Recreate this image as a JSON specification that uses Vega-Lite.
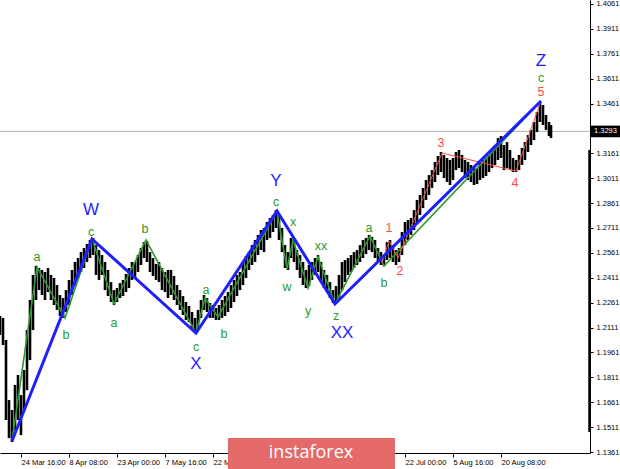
{
"$schema": "https://vega.github.io/schema/vega-lite/v6.json",
"width": 590, "height": 453,
"autosize": {"type": "none"},
"padding": {"left": 0, "top": 0, "right": 30, "bottom": 16},
"background": "white",
"config": {"view": {"stroke": null}, "axis": {"grid": false, "labelFont": "Liberation Sans", "title": null, "labelOverlap": false}, "axisY": {"labelOverlap": false}, "text": {"font": "Liberation Sans"}},
"datasets": {
"px": [
{"t":0,"h":1.2181,"l":1.2066},{"t":3,"h":1.2169,"l":1.2006},{"t":6,"h":1.2036,"l":1.1554},{"t":9,"h":1.1674,"l":1.1445},{"t":12,"h":1.1614,"l":1.1421},{"t":15,"h":1.1765,"l":1.1493},{"t":18,"h":1.1825,"l":1.1554},{"t":21,"h":1.1704,"l":1.1463},{"t":24,"h":1.1855,"l":1.1614},{"t":27,"h":1.2096,"l":1.1734},{"t":30,"h":1.2277,"l":1.1915},{"t":33,"h":1.2428,"l":1.2096},{"t":36,"h":1.2482,"l":1.2277},{"t":39,"h":1.2470,"l":1.2337},{"t":42,"h":1.2458,"l":1.2307},{"t":45,"h":1.2446,"l":1.2277},{"t":48,"h":1.2470,"l":1.2325},{"t":51,"h":1.2428,"l":1.2277},{"t":54,"h":1.2410,"l":1.2247},{"t":57,"h":1.2367,"l":1.2217},{"t":60,"h":1.2307,"l":1.2181},{"t":63,"h":1.2289,"l":1.2169},{"t":66,"h":1.2337,"l":1.2205},{"t":69,"h":1.2398,"l":1.2247},{"t":72,"h":1.2458,"l":1.2307},{"t":75,"h":1.2506,"l":1.2367},{"t":78,"h":1.2530,"l":1.2410},{"t":81,"h":1.2566,"l":1.2446},{"t":84,"h":1.2590,"l":1.2470},{"t":87,"h":1.2614,"l":1.2506},{"t":90,"h":1.2639,"l":1.2530},{"t":93,"h":1.2651,"l":1.2548},{"t":96,"h":1.2608,"l":1.2428},{"t":99,"h":1.2578,"l":1.2398},{"t":102,"h":1.2548,"l":1.2428},{"t":105,"h":1.2506,"l":1.2337},{"t":108,"h":1.2458,"l":1.2301},{"t":111,"h":1.2385,"l":1.2265},{"t":114,"h":1.2337,"l":1.2247},{"t":117,"h":1.2349,"l":1.2265},{"t":120,"h":1.2379,"l":1.2289},{"t":123,"h":1.2398,"l":1.2301},{"t":126,"h":1.2434,"l":1.2325},{"t":129,"h":1.2470,"l":1.2349},{"t":132,"h":1.2506,"l":1.2398},{"t":135,"h":1.2506,"l":1.2410},{"t":138,"h":1.2548,"l":1.2446},{"t":141,"h":1.2590,"l":1.2488},{"t":144,"h":1.2626,"l":1.2530},{"t":147,"h":1.2633,"l":1.2506},{"t":150,"h":1.2566,"l":1.2446},{"t":153,"h":1.2530,"l":1.2422},{"t":156,"h":1.2494,"l":1.2398},{"t":159,"h":1.2506,"l":1.2385},{"t":162,"h":1.2470,"l":1.2337},{"t":165,"h":1.2446,"l":1.2325},{"t":168,"h":1.2458,"l":1.2289},{"t":171,"h":1.2458,"l":1.2307},{"t":174,"h":1.2422,"l":1.2277},{"t":177,"h":1.2367,"l":1.2247},{"t":180,"h":1.2337,"l":1.2217},{"t":183,"h":1.2301,"l":1.2187},{"t":186,"h":1.2265,"l":1.2157},{"t":189,"h":1.2241,"l":1.2144},{"t":192,"h":1.2205,"l":1.2108},{"t":195,"h":1.2169,"l":1.2078},{"t":198,"h":1.2217,"l":1.2096},{"t":201,"h":1.2277,"l":1.2169},{"t":204,"h":1.2307,"l":1.2217},{"t":207,"h":1.2289,"l":1.2205},{"t":210,"h":1.2259,"l":1.2169},{"t":213,"h":1.2247,"l":1.2169},{"t":216,"h":1.2229,"l":1.2157},{"t":219,"h":1.2247,"l":1.2157},{"t":222,"h":1.2277,"l":1.2169},{"t":225,"h":1.2301,"l":1.2181},{"t":228,"h":1.2325,"l":1.2205},{"t":231,"h":1.2367,"l":1.2229},{"t":234,"h":1.2398,"l":1.2265},{"t":237,"h":1.2428,"l":1.2301},{"t":240,"h":1.2446,"l":1.2337},{"t":243,"h":1.2506,"l":1.2367},{"t":246,"h":1.2542,"l":1.2410},{"t":249,"h":1.2566,"l":1.2458},{"t":252,"h":1.2608,"l":1.2488},{"t":255,"h":1.2639,"l":1.2506},{"t":258,"h":1.2669,"l":1.2548},{"t":261,"h":1.2699,"l":1.2578},{"t":264,"h":1.2711,"l":1.2566},{"t":267,"h":1.2747,"l":1.2639},{"t":270,"h":1.2771,"l":1.2651},{"t":273,"h":1.2789,"l":1.2687},{"t":276,"h":1.2819,"l":1.2711},{"t":279,"h":1.2789,"l":1.2639},{"t":282,"h":1.2711,"l":1.2566},{"t":285,"h":1.2608,"l":1.2470},{"t":288,"h":1.2566,"l":1.2458},{"t":291,"h":1.2651,"l":1.2530},{"t":294,"h":1.2639,"l":1.2506},{"t":297,"h":1.2578,"l":1.2458},{"t":300,"h":1.2548,"l":1.2410},{"t":303,"h":1.2506,"l":1.2367},{"t":306,"h":1.2458,"l":1.2349},{"t":309,"h":1.2488,"l":1.2361},{"t":312,"h":1.2506,"l":1.2398},{"t":315,"h":1.2530,"l":1.2428},{"t":318,"h":1.2548,"l":1.2446},{"t":321,"h":1.2506,"l":1.2385},{"t":324,"h":1.2458,"l":1.2349},{"t":327,"h":1.2428,"l":1.2325},{"t":330,"h":1.2385,"l":1.2289},{"t":333,"h":1.2337,"l":1.2259},{"t":336,"h":1.2361,"l":1.2265},{"t":339,"h":1.2428,"l":1.2289},{"t":342,"h":1.2506,"l":1.2337},{"t":345,"h":1.2518,"l":1.2385},{"t":348,"h":1.2530,"l":1.2428},{"t":351,"h":1.2548,"l":1.2446},{"t":354,"h":1.2566,"l":1.2470},{"t":357,"h":1.2578,"l":1.2488},{"t":360,"h":1.2608,"l":1.2506},{"t":363,"h":1.2639,"l":1.2530},{"t":366,"h":1.2651,"l":1.2554},{"t":369,"h":1.2669,"l":1.2578},{"t":372,"h":1.2657,"l":1.2566},{"t":375,"h":1.2639,"l":1.2530},{"t":378,"h":1.2590,"l":1.2506},{"t":381,"h":1.2566,"l":1.2488},{"t":384,"h":1.2548,"l":1.2482},{"t":387,"h":1.2626,"l":1.2518},{"t":390,"h":1.2639,"l":1.2530},{"t":393,"h":1.2608,"l":1.2506},{"t":396,"h":1.2578,"l":1.2488},{"t":399,"h":1.2590,"l":1.2506},{"t":402,"h":1.2687,"l":1.2548},{"t":405,"h":1.2747,"l":1.2608},{"t":408,"h":1.2759,"l":1.2639},{"t":411,"h":1.2771,"l":1.2669},{"t":414,"h":1.2819,"l":1.2699},{"t":417,"h":1.2880,"l":1.2747},{"t":420,"h":1.2910,"l":1.2789},{"t":423,"h":1.2952,"l":1.2831},{"t":426,"h":1.3000,"l":1.2880},{"t":429,"h":1.3030,"l":1.2910},{"t":432,"h":1.3060,"l":1.2952},{"t":435,"h":1.3109,"l":1.2988},{"t":438,"h":1.3145,"l":1.3030},{"t":441,"h":1.3169,"l":1.3048},{"t":444,"h":1.3151,"l":1.3012},{"t":447,"h":1.3133,"l":1.2988},{"t":450,"h":1.3121,"l":1.2970},{"t":453,"h":1.3133,"l":1.3000},{"t":456,"h":1.3169,"l":1.3060},{"t":459,"h":1.3181,"l":1.3072},{"t":462,"h":1.3151,"l":1.3048},{"t":465,"h":1.3121,"l":1.3012},{"t":468,"h":1.3109,"l":1.3000},{"t":471,"h":1.3091,"l":1.2988},{"t":474,"h":1.3072,"l":1.2970},{"t":477,"h":1.3072,"l":1.2976},{"t":480,"h":1.3109,"l":1.3000},{"t":483,"h":1.3121,"l":1.3012},{"t":486,"h":1.3133,"l":1.3024},{"t":489,"h":1.3151,"l":1.3048},{"t":492,"h":1.3181,"l":1.3072},{"t":495,"h":1.3211,"l":1.3091},{"t":498,"h":1.3253,"l":1.3121},{"t":501,"h":1.3265,"l":1.3133},{"t":504,"h":1.3211,"l":1.3060},{"t":507,"h":1.3229,"l":1.3072},{"t":510,"h":1.3181,"l":1.3060},{"t":513,"h":1.3133,"l":1.3048},{"t":516,"h":1.3121,"l":1.3048},{"t":519,"h":1.3151,"l":1.3060},{"t":522,"h":1.3193,"l":1.3091},{"t":525,"h":1.3229,"l":1.3121},{"t":528,"h":1.3271,"l":1.3169},{"t":531,"h":1.3302,"l":1.3211},{"t":534,"h":1.3350,"l":1.3241},{"t":537,"h":1.3410,"l":1.3289},{"t":540,"h":1.3470,"l":1.3350},{"t":543,"h":1.3452,"l":1.3332},{"t":546,"h":1.3392,"l":1.3302},{"t":549,"h":1.3350,"l":1.3265},{"t":551,"h":1.3332,"l":1.3253}
],
"waves": [
{"w":"blue","o":1,"t":12,"p":1.1427},{"w":"blue","o":2,"t":92,"p":1.2645},{"w":"blue","o":3,"t":196,"p":1.2078},{"w":"blue","o":4,"t":277,"p":1.2813},{"w":"blue","o":5,"t":335,"p":1.2253},{"w":"blue","o":6,"t":541,"p":1.3476},
{"w":"green","o":1,"t":12,"p":1.1427},{"w":"green","o":2,"t":37,"p":1.2476},{"w":"green","o":3,"t":65,"p":1.2169},{"w":"green","o":4,"t":92,"p":1.2645},{"w":"green","o":5,"t":114,"p":1.2253},{"w":"green","o":6,"t":146,"p":1.2639},{"w":"green","o":7,"t":196,"p":1.2078},{"w":"green","o":8,"t":205,"p":1.2289},{"w":"green","o":9,"t":218,"p":1.2175},{"w":"green","o":10,"t":277,"p":1.2813},{"w":"green","o":11,"t":287,"p":1.2464},{"w":"green","o":12,"t":293,"p":1.2639},{"w":"green","o":13,"t":308,"p":1.2349},{"w":"green","o":14,"t":318,"p":1.2536},{"w":"green","o":15,"t":335,"p":1.2253},{"w":"green","o":16,"t":370,"p":1.2663},{"w":"green","o":17,"t":384,"p":1.2482},{"w":"green","o":18,"t":541,"p":1.3476},
{"w":"red","o":1,"t":382,"p":1.2500},{"w":"red","o":2,"t":389,"p":1.2633},{"w":"red","o":3,"t":398,"p":1.2530},{"w":"red","o":4,"t":442,"p":1.3163},{"w":"red","o":5,"t":516,"p":1.3054},{"w":"red","o":6,"t":541,"p":1.3476}
],
"labels": [
{"k":"W","w":"blue","t":91,"p":1.2819},{"k":"X","w":"blue","t":196,"p":1.1891},{"k":"Y","w":"blue","t":276,"p":1.2994},{"k":"XX","w":"blue","t":342,"p":1.2078},{"k":"Z","w":"blue","t":541,"p":1.3720},
{"k":"c","w":"green","t":91,"p":1.2687},{"k":"a","w":"green","t":37,"p":1.2536},{"k":"b","w":"green","t":66,"p":1.2066},{"k":"a","w":"green","t":114,"p":1.2138},{"k":"b","w":"green","t":145,"p":1.2705},{"k":"c","w":"green","t":196,"p":1.1994},{"k":"a","w":"green","t":206,"p":1.2337},{"k":"b","w":"green","t":224,"p":1.2072},{"k":"c","w":"green","t":276,"p":1.2868},{"k":"x","w":"green","t":293,"p":1.2747},{"k":"w","w":"green","t":287,"p":1.2355},{"k":"y","w":"green","t":308,"p":1.2211},{"k":"xx","w":"green","t":321,"p":1.2602},{"k":"z","w":"green","t":336,"p":1.2181},{"k":"a","w":"green","t":369,"p":1.2711},{"k":"b","w":"green","t":384,"p":1.2379},{"k":"c","w":"green","t":541,"p":1.3612},
{"k":"1","w":"red","t":389,"p":1.2711},{"k":"2","w":"red","t":400,"p":1.2452},{"k":"3","w":"red","t":441,"p":1.3223},{"k":"4","w":"red","t":515,"p":1.2982},{"k":"5","w":"red","t":541,"p":1.3530}
]
},
"encoding": {
 "x": {"type": "quantitative", "scale": {"domain": [0, 590], "nice": false, "zero": false},
   "axis": {"orient": "bottom", "values": [-27,21,69,117,165,213,405,453,501], "labelExpr": "{'-27':'10 Mar 00:00','21':'24 Mar 16:00','69':'8 Apr 08:00','117':'23 Apr 00:00','165':'7 May 16:00','213':'22 May 08:00','405':'22 Jul 00:00','453':'5 Aug 16:00','501':'20 Aug 08:00'}[datum.value+'']", "labelAlign": "left", "labelFontSize": 7.5, "labelColor": "#000", "domainColor": "#000", "tickColor": "#000", "tickSize": 4, "labelPadding": 1, "labelOverlap": false, "labelFlush": false}},
 "y": {"type": "quantitative", "scale": {"domain": [1.1355, 1.4085], "nice": false, "zero": false},
   "axis": {"orient": "right", "values": [1.1361,1.1511,1.1661,1.1811,1.1961,1.2111,1.2261,1.2411,1.2561,1.2711,1.2861,1.3011,1.3161,1.3461,1.3611,1.3761,1.3911,1.4061], "format": ".4f", "labelFontSize": 7.5, "labelColor": "#000", "domainColor": "#000", "tickColor": "#000", "tickSize": 3, "labelPadding": 3, "labelBaseline": "middle", "labelOverlap": false, "labelFlush": false}}
},
"layer": [
{"data": {"values": [{"p": 1.3293}]}, "mark": {"type": "rule", "color": "#b4b4b4", "strokeWidth": 1},
 "encoding": {"y": {"field": "p"}}},
{"data": {"name": "px"}, "mark": {"type": "rule", "color": "#000", "strokeWidth": 2.6},
 "encoding": {"x": {"field": "t"}, "y": {"field": "h"}, "y2": {"field": "l"}}},
{"data": {"name": "waves"}, "transform": [{"filter": {"field": "w", "equal": "green"}}], "mark": {"type": "line", "color": "#2a9a2a", "strokeWidth": 1.6},
 "encoding": {"x": {"field": "t"}, "y": {"field": "p"}, "order": {"field": "o"}}},
{"data": {"name": "waves"}, "transform": [{"filter": {"field": "w", "equal": "red"}}], "mark": {"type": "line", "color": "#ff4c4c", "strokeWidth": 1},
 "encoding": {"x": {"field": "t"}, "y": {"field": "p"}, "order": {"field": "o"}}},
{"data": {"name": "waves"}, "transform": [{"filter": {"field": "w", "equal": "blue"}}], "mark": {"type": "line", "color": "#1e1eff", "strokeWidth": 3},
 "encoding": {"x": {"field": "t"}, "y": {"field": "p"}, "order": {"field": "o"}}},
{"data": {"name": "labels"}, "transform": [{"filter": {"field": "w", "equal": "blue"}}], "mark": {"type": "text", "color": "#1e1eff", "fontSize": 17, "baseline": "middle", "align": "center"},
 "encoding": {"x": {"field": "t"}, "y": {"field": "p"}, "text": {"field": "k"}}},
{"data": {"name": "labels"}, "transform": [{"filter": {"field": "w", "equal": "green"}}], "mark": {"type": "text", "color": "#2a9a2a", "fontSize": 12.5, "baseline": "middle", "align": "center"},
 "encoding": {"x": {"field": "t"}, "y": {"field": "p"}, "text": {"field": "k"}}},
{"data": {"name": "labels"}, "transform": [{"filter": {"field": "w", "equal": "red"}}], "mark": {"type": "text", "color": "#ff4c4c", "fontSize": 12.5, "baseline": "middle", "align": "center"},
 "encoding": {"x": {"field": "t"}, "y": {"field": "p"}, "text": {"field": "k"}}},
{"data": {"values": [{}]}, "mark": {"type": "rule", "color": "#000", "strokeWidth": 2.5},
 "encoding": {"x": {"datum": 589.5}, "y": {"datum": 1.3181}, "y2": {"datum": 1.1482}}},
{"data": {"values": [{}]}, "mark": {"type": "rect", "color": "#000"},
 "encoding": {"x": {"datum": 591}, "x2": {"datum": 620}, "y": {"datum": 1.3328}, "y2": {"datum": 1.3258}}},
{"data": {"values": [{}]}, "mark": {"type": "text", "text": "1.3293", "color": "#fff", "fontSize": 7.5, "align": "left", "baseline": "middle"},
 "encoding": {"x": {"datum": 594}, "y": {"datum": 1.3293}}},
{"data": {"values": [{}]}, "mark": {"type": "rect", "color": "#e46a6a", "opacity": 1},
 "encoding": {"x": {"datum": 228}, "x2": {"datum": 395}, "y": {"datum": 1.1445}, "y2": {"datum": 1.1250}}},
{"data": {"values": [{}]}, "mark": {"type": "text", "text": "instaforex", "color": "#fff", "font": "Open Sans", "fontSize": 18, "align": "center", "baseline": "middle"},
 "encoding": {"x": {"datum": 311}, "y": {"datum": 1.1355}}}
]
}
